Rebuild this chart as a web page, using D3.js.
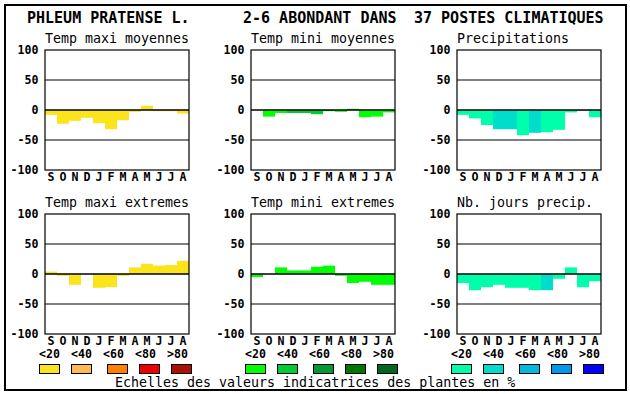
<!DOCTYPE html>
<html>
<head>
<meta charset="utf-8">
<script src="https://cdn.jsdelivr.net/npm/d3@7"></script>
<style>
    body { margin: 0; background: #fff; }
    text { font-family: "DejaVu Sans Mono", "Liberation Mono", monospace; fill: #000; }
</style>
</head>
<body>
<div id="chart"></div>
<script>
// data
var months = ["S", "O", "N", "D", "J", "F", "M", "A", "M", "J", "J", "A"];
var yTicks = [100, 50, 0, -50, -100];
var legendLabels = ["<20", "<40", "<60", "<80", ">80"];

var titleParts = ["PHLEUM PRATENSE L.", "2-6 ABONDANT DANS", "37 POSTES CLIMATIQUES"];
var footerText = "Echelles des valeurs indicatrices des plantes en %";

var panelTitles = ["Temp maxi moyennes", "Temp mini moyennes", "Precipitations",
                   "Temp maxi extremes", "Temp mini extremes", "Nb. jours precip."];

var tmaxMoyValues  = [-8, -23, -18, -13, -22, -32, -17, -3, 7, -2, -2, -6];
var tmaxMoyClass   = [0, 0, 0, 0, 0, 0, 0, 0, 0, 0, 0, 0];
var tminMoyValues  = [0, -11, -5, -5, -5, -7, -2, -3, 2, -12, -11, -4];
var tminMoyClass   = [0, 0, 0, 1, 1, 1, 0, 0, 0, 0, 0, 0];
var precipValues   = [-8, -14, -25, -32, -32, -42, -38, -37, -33, -4, -1, -12];
var precipClass    = [0, 0, 0, 1, 1, 0, 1, 0, 0, 0, 0, 0];
var tmaxExtValues  = [4, -3, -18, 0, -23, -22, -3, 11, 17, 14, 15, 22];
var tmaxExtClass   = [0, 0, 0, 0, 0, 0, 0, 0, 0, 0, 0, 0];
var tminExtValues  = [-5, 0, 11, 6, 6, 12, 14, -3, -15, -13, -18, -18];
var tminExtClass   = [0, 0, 0, 0, 0, 0, 0, 0, 0, 0, 0, 0];
var joursValues    = [-15, -27, -22, -18, -23, -23, -27, -27, -8, 11, -22, -12];
var joursClass     = [0, 0, 0, 0, 0, 0, 0, 1, 0, 0, 0, 0];

var yellowScale = ["#fbe41c", "#ffbb50", "#ff8000", "#ee0000", "#aa1100"];
var greenScale  = ["#00ff00", "#00cc33", "#009933", "#007700", "#006622"];
var tealScale   = ["#00ffaa", "#00ddcc", "#00bbdd", "#0099ee", "#0000ff"];

// layout
var width = 630, height = 394;
var colLeft = [45, 251, 457];
var rowTop = [50, 214];
var plotW = 144, plotH = 120;
var swatchOffsets = [-6, 26, 62, 94, 126];

var svg = d3.select("#chart").append("svg")
    .attr("width", width)
    .attr("height", height);

svg.append("rect")
    .attr("x", 5).attr("y", 5)
    .attr("width", 621).attr("height", 385)
    .attr("fill", "none")
    .attr("stroke", "#000")
    .attr("stroke-width", 2);

var titleX = [27, 243, 414];
svg.selectAll(".mainTitle")
    .data(titleParts).enter()
    .append("text")
    .attr("class", "mainTitle")
    .attr("x", (d, i) => titleX[i])
    .attr("y", 23)
    .style("font-size", "15px")
    .style("font-weight", "bold")
    .text(d => d);

var panels = [
    { values: tmaxMoyValues, cls: tmaxMoyClass, colors: yellowScale },
    { values: tminMoyValues, cls: tminMoyClass, colors: greenScale },
    { values: precipValues, cls: precipClass, colors: tealScale },
    { values: tmaxExtValues, cls: tmaxExtClass, colors: yellowScale },
    { values: tminExtValues, cls: tminExtClass, colors: greenScale },
    { values: joursValues, cls: joursClass, colors: tealScale }
];

panels.forEach(function(p, i) {
    var left = colLeft[i % 3];
    var top = rowTop[Math.floor(i / 3)];

    var x = d3.scaleBand()
        .domain(d3.range(months.length))
        .range([left, left + plotW])
        .padding(0);
    var y = d3.scaleLinear()
        .domain([-100, 100])
        .range([top + plotH, top]);

    var g = svg.append("g");

    g.append("text")
        .attr("x", left)
        .attr("y", top - 7)
        .style("font-size", "13.3px")
        .text(panelTitles[i]);

    // bars
    g.selectAll(".bar")
        .data(p.values).enter()
        .append("rect")
        .attr("class", "bar")
        .attr("x", (d, j) => x(j))
        .attr("width", x.bandwidth())
        .attr("y", d => y(Math.max(0, d)))
        .attr("height", d => Math.abs(y(d) - y(0)))
        .attr("fill", (d, j) => p.colors[p.cls[j]]);

    // grid lines at 50 / 0 / -50
    g.selectAll(".grid")
        .data([50, 0, -50]).enter()
        .append("line")
        .attr("x1", left).attr("x2", left + plotW)
        .attr("y1", d => y(d)).attr("y2", d => y(d))
        .attr("stroke", "#000")
        .attr("stroke-width", d => d === 0 ? 1.6 : 1.2);

    g.append("rect")
        .attr("x", left).attr("y", top)
        .attr("width", plotW).attr("height", plotH)
        .attr("fill", "none")
        .attr("stroke", "#000")
        .attr("stroke-width", 1.2);

    g.selectAll(".tick")
        .data(yTicks).enter()
        .append("text")
        .attr("x", left - 6.5)
        .attr("y", d => y(d))
        .attr("dy", "0.36em")
        .attr("text-anchor", "end")
        .style("font-size", "11.6px")
        .style("font-weight", "bold")
        .text(d => d);

    g.selectAll(".month")
        .data(months).enter()
        .append("text")
        .attr("x", (d, j) => x(j) + x.bandwidth() / 2)
        .attr("y", top + plotH + 11)
        .attr("text-anchor", "middle")
        .style("font-size", "11.6px")
        .style("font-weight", "bold")
        .text(d => d);

    // legend under bottom row
    if (i >= 3) {
        g.selectAll(".legLabel")
            .data(legendLabels).enter()
            .append("text")
            .attr("x", (d, j) => left - 6 + j * 32)
            .attr("y", 358)
            .style("font-size", "11.6px")
            .style("font-weight", "bold")
            .text(d => d);

        g.selectAll(".swatch")
            .data(p.colors).enter()
            .append("rect")
            .attr("x", (d, j) => left + swatchOffsets[j] + 0.5)
            .attr("y", 364.5)
            .attr("width", 20)
            .attr("height", 9)
            .attr("fill", d => d)
            .attr("stroke", "#000")
            .attr("stroke-width", 1);
    }
});

svg.append("text")
    .attr("x", 115)
    .attr("y", 387)
    .style("font-size", "13.3px")
    .text(footerText);
</script>
</body>
</html>
